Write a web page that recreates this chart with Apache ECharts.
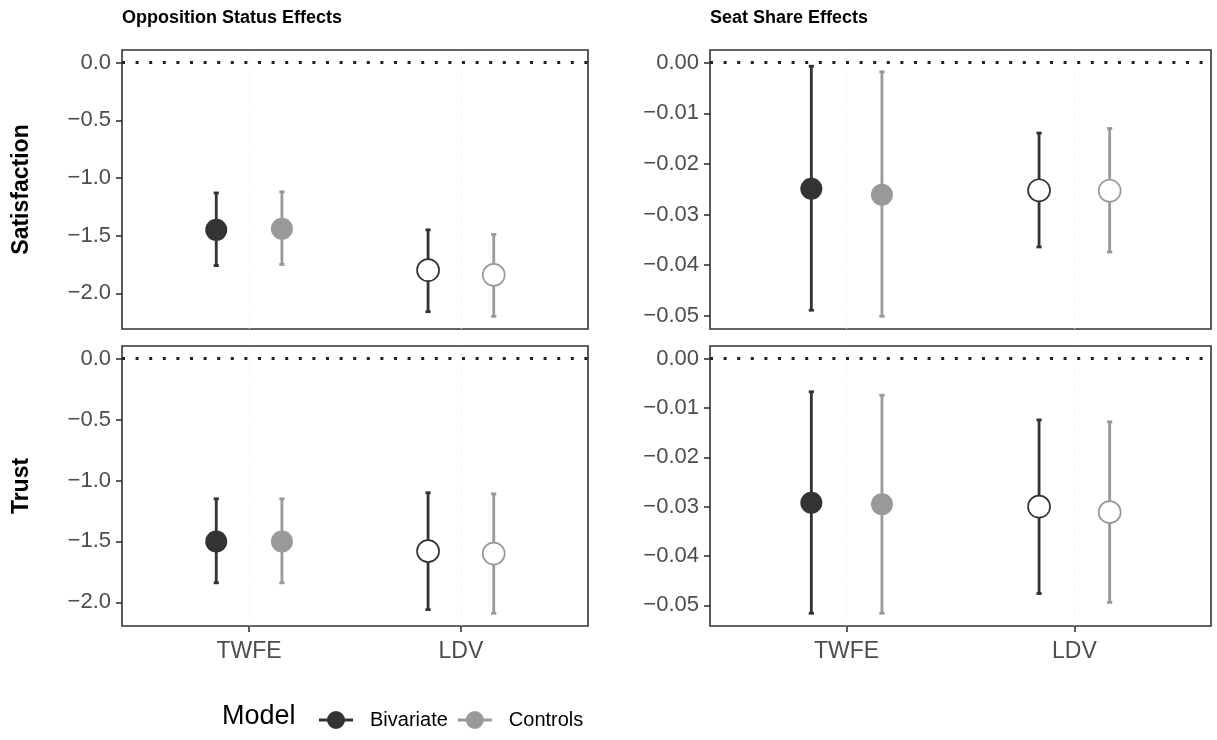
<!DOCTYPE html>
<html>
<head>
<meta charset="utf-8">
<script src="https://cdn.jsdelivr.net/npm/echarts@6/dist/echarts.min.js"></script>
<style>
html,body{margin:0;padding:0;background:#fff;}
#chart{width:1217px;height:740px;}
</style>
</head>
<body>
<div id="chart"></div>
<script>
// ---- data ----
const estimators = ['TWFE', 'LDV'];
const models = ['Bivariate', 'Controls'];
const outcomes = ['Satisfaction', 'Trust'];
const effects = ['Opposition Status Effects', 'Seat Share Effects'];
const legendTitle = 'Model';

// [estimate, lower, upper] for each estimator (TWFE, LDV)
const oppSatBivariate = [[-1.45, -1.76, -1.13], [-1.80, -2.16, -1.45]];
const oppSatControls  = [[-1.44, -1.75, -1.12], [-1.84, -2.20, -1.49]];
const oppTrustBivariate = [[-1.50, -1.84, -1.15], [-1.58, -2.06, -1.10]];
const oppTrustControls  = [[-1.50, -1.84, -1.15], [-1.60, -2.09, -1.11]];
const seatSatBivariate = [[-0.0249, -0.0489, -0.0007], [-0.0252, -0.0364, -0.0139]];
const seatSatControls  = [[-0.0261, -0.0501, -0.0018], [-0.0253, -0.0374, -0.0130]];
const seatTrustBivariate = [[-0.0292, -0.0516, -0.0067], [-0.0300, -0.0476, -0.0124]];
const seatTrustControls  = [[-0.0295, -0.0516, -0.0074], [-0.0311, -0.0494, -0.0128]];

const oppTicks = [0, -0.5, -1.0, -1.5, -2.0];
const seatTicks = [0, -0.01, -0.02, -0.03, -0.04, -0.05];

// ---- layout / style ----
const FONT = '"Liberation Sans", Arial, Helvetica, sans-serif';
const colors = {Bivariate: '#333333', Controls: '#999999'};
const dodge = {Bivariate: -0.155, Controls: 0.155};
const openShape = {TWFE: false, LDV: true};

const panels = [
  {grid: {left: 122, top: 50, width: 466, height: 279}, data: {Bivariate: oppSatBivariate, Controls: oppSatControls}, ticks: oppTicks, dec: 1, showX: false},
  {grid: {left: 710, top: 50, width: 501, height: 279}, data: {Bivariate: seatSatBivariate, Controls: seatSatControls}, ticks: seatTicks, dec: 2, showX: false},
  {grid: {left: 122, top: 346, width: 466, height: 280}, data: {Bivariate: oppTrustBivariate, Controls: oppTrustControls}, ticks: oppTicks, dec: 1, showX: true},
  {grid: {left: 710, top: 346, width: 501, height: 280}, data: {Bivariate: seatTrustBivariate, Controls: seatTrustControls}, ticks: seatTicks, dec: 2, showX: true}
];

function fmt(v, dec) {
  const s = Math.abs(v).toFixed(dec);
  return (v < -1e-12 ? '\u2212' : '') + s;
}

const grids = [], xAxes = [], yAxes = [], series = [];
panels.forEach((p, i) => {
  // y-range: data plus the zero line, expanded 5%
  let lo = 0, hi = 0;
  models.forEach(m => p.data[m].forEach(d => { lo = Math.min(lo, d[1]); hi = Math.max(hi, d[2]); }));
  const pad = (hi - lo) * 0.05;
  grids.push(Object.assign({show: true, borderColor: '#333333', borderWidth: 1.6, backgroundColor: '#fff', containLabel: false}, p.grid));
  xAxes.push({
    type: 'value', gridIndex: i, min: 0.4, max: 2.6, position: 'bottom',
    axisLine: {show: false, onZero: false},
    axisTick: {show: p.showX, length: 6, lineStyle: {color: '#333', width: 1.6}, customValues: [1, 2]},
    axisLabel: {show: p.showX, customValues: [1, 2], color: '#4D4D4D', fontSize: 23, fontFamily: FONT, margin: 14,
      formatter: v => estimators[Math.round(v) - 1] || ''},
    splitLine: {show: false}
  });
  yAxes.push({
    type: 'value', gridIndex: i, min: lo - pad, max: hi + pad, position: 'left',
    axisLine: {show: false, onZero: false},
    axisTick: {show: true, length: 6, lineStyle: {color: '#333', width: 1.6}, customValues: p.ticks},
    axisLabel: {customValues: p.ticks, color: '#4D4D4D', fontSize: 22, fontFamily: FONT, margin: 11,
      formatter: v => fmt(v, p.dec)},
    splitLine: {show: false}
  });
  // faint vertical grid lines at the estimator positions
  series.push({
    type: 'line', xAxisIndex: i, yAxisIndex: i, data: [], silent: true, z: 1,
    markLine: {
      silent: true, symbol: ['none', 'none'], label: {show: false}, animation: false,
      data: estimators.map((e, k) => ({xAxis: k + 1})),
      lineStyle: {color: '#EBEBEB', type: [2, 3], width: 0.8}
    }
  });
  // dotted zero reference line
  series.push({
    type: 'line', xAxisIndex: i, yAxisIndex: i, data: [], silent: true, z: 2,
    markLine: {
      silent: true, symbol: ['none', 'none'], label: {show: false}, animation: false,
      data: [{yAxis: 0}],
      lineStyle: {color: '#222222', type: [3, 10.6], width: 2.8, cap: 'butt'}
    }
  });
  models.forEach(m => {
    const c = colors[m];
    const rows = p.data[m].map((d, k) => [k + 1 + dodge[m], d[0], d[1], d[2]]);
    series.push({
      name: m, type: 'custom', xAxisIndex: i, yAxisIndex: i, animation: false, z: 3,
      itemStyle: {color: c},
      encode: {x: 0, y: [1, 2, 3]},
      data: rows,
      renderItem: (params, api) => {
        const x = api.value(0);
        const top = api.coord([x, api.value(3)]);
        const bot = api.coord([x, api.value(2)]);
        const cw = 2.6;
        const st = {stroke: c, lineWidth: 2.8};
        return {type: 'group', children: [
          {type: 'line', shape: {x1: top[0], y1: top[1], x2: bot[0], y2: bot[1]}, style: st},
          {type: 'line', shape: {x1: top[0] - cw, y1: top[1], x2: top[0] + cw, y2: top[1]}, style: st},
          {type: 'line', shape: {x1: bot[0] - cw, y1: bot[1], x2: bot[0] + cw, y2: bot[1]}, style: st}
        ]};
      }
    });
    series.push({
      name: m, type: 'scatter', xAxisIndex: i, yAxisIndex: i, animation: false, z: 4,
      symbol: 'circle', symbolSize: 22, itemStyle: {color: c, opacity: 1},
      data: p.data[m].map((d, k) => {
        const open = openShape[estimators[k]];
        return open
          ? {value: [k + 1 + dodge[m], d[0]], itemStyle: {color: '#ffffff', borderColor: c, borderWidth: 1.7}}
          : {value: [k + 1 + dodge[m], d[0]]};
      })
    });
  });
});

// legend key: short line with a dot, padded on the right for spacing
const keyIcon = 'path://M0,8.6 L34,8.6 L34,11.4 L0,11.4 Z M8,10 A9,9 0 1,1 26,10 A9,9 0 1,1 8,10 Z M46,10 L46,10.01';

const option = {
  animation: false,
  backgroundColor: '#ffffff',
  grid: grids,
  xAxis: xAxes,
  yAxis: yAxes,
  series: series,
  legend: {
    data: models.map(m => ({name: m, icon: keyIcon})),
    left: 314, top: 705, itemWidth: 46, itemHeight: 20, itemGap: 10,
    textStyle: {fontSize: 20, color: '#000', fontFamily: FONT},
    selectedMode: false
  },
  graphic: [
    {type: 'text', left: 122, top: 9, style: {text: effects[0], font: 'bold 18px ' + FONT, fill: '#000'}},
    {type: 'text', left: 710, top: 9, style: {text: effects[1], font: 'bold 18px ' + FONT, fill: '#000'}},
    {type: 'text', x: 22, y: 189.5, rotation: Math.PI / 2, style: {text: outcomes[0], font: 'bold 23px ' + FONT, fill: '#000', align: 'center', verticalAlign: 'middle'}},
    {type: 'text', x: 22, y: 486, rotation: Math.PI / 2, style: {text: outcomes[1], font: 'bold 23px ' + FONT, fill: '#000', align: 'center', verticalAlign: 'middle'}},
    {type: 'text', x: 222, y: 717, style: {text: legendTitle, font: '27px ' + FONT, fill: '#000', verticalAlign: 'middle'}}
  ]
};

const chart = echarts.init(document.getElementById('chart'), null, {renderer: 'canvas'});
chart.setOption(option);
</script>
</body>
</html>
